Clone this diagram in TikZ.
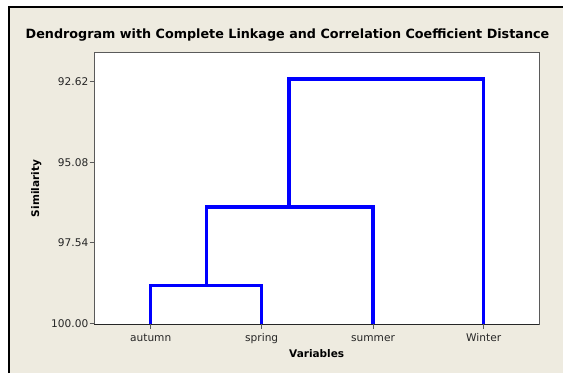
\documentclass[tikz,border=0pt]{standalone}
\usepackage{fontspec}
\setmainfont{DejaVu Sans}
\begin{document}
\begin{tikzpicture}[x=1pt,y=-1pt,
  panel/.style={fill=bgbeige, draw=none},
  plotframe/.style={draw=axisgray, line width=1pt, fill=white},
  tickline/.style={draw=axisgray, line width=0.9pt},
  dendro/.style={draw=dblue, line width=3.2pt, line join=miter, line cap=butt},
  ticklabel/.style={font=\fontsize{10.6}{12}\selectfont, text=black!85, anchor=east, inner sep=0pt},
  leaflabel/.style={font=\fontsize{10.6}{12}\selectfont, text=black!85, anchor=base, inner sep=0pt},
  axistitle/.style={font=\bfseries\fontsize{10.5}{12}\selectfont, anchor=base, inner sep=0pt},
  charttitle/.style={font=\bfseries\fontsize{12.75}{14}\selectfont, anchor=base, inner sep=0pt}
]
\definecolor{bgbeige}{RGB}{238,235,224}
\definecolor{axisgray}{RGB}{90,90,90}
\definecolor{dblue}{RGB}{0,0,255}
\useasboundingbox (0,0) rectangle (563,373);
\fill[white] (0,0) rectangle (563,373);
% outer panel
\fill[bgbeige] (9,7) rectangle (563,373);
\draw[black, line width=2pt] (9,373) -- (9,7) -- (563,7);
% title
\node[charttitle] (title) at (287.5,38.3) {Dendrogram with Complete Linkage and Correlation Coefficient Distance};
% plot area
\path[plotframe] (94.3,52.3) rectangle (539,324);
\draw[black!85, line width=1pt] (94.3,324) -- (539,324);
% y ticks
\foreach \yy/\lab/\nm in {81.7/92.62/ya, 162.2/95.08/yb, 242.7/97.54/yc, 323.5/100.00/yd}{
  \draw[tickline] (89.5,\yy) -- (94.3,\yy);
  \node[ticklabel] (\nm) at (88.5,\yy) {\lab};
}
% leaves
\coordinate (A) at (150.7,324);
\coordinate (S) at (261.7,324);
\coordinate (U) at (373,324);
\coordinate (W) at (483.7,324);
\foreach \c/\lab/\nm in {A/autumn/la, S/spring/ls, U/summer/lu, W/Winter/lw}{
  \draw[tickline] (\c) -- ++(0,5);
  \node[leaflabel] (\nm) at ([yshift=-17.5pt]\c) {\lab};
}
% axis titles
\node[axistitle] (xlab) at (316.7,357) {Variables};
\node[axistitle, rotate=90] (ylab) at (39,188.5) {Similarity};
% merge points
\coordinate (m1) at (206.2,285.3);
\coordinate (m2) at (289,207);
\coordinate (m3) at (386.3,79);
% dendrogram
\draw[dendro] (A) |- (m1) -| (S);
\draw[dendro] (m1) |- (m2) -| (U);
\draw[dendro] (m2) |- (m3) -| (W);
\end{tikzpicture}
\end{document}
